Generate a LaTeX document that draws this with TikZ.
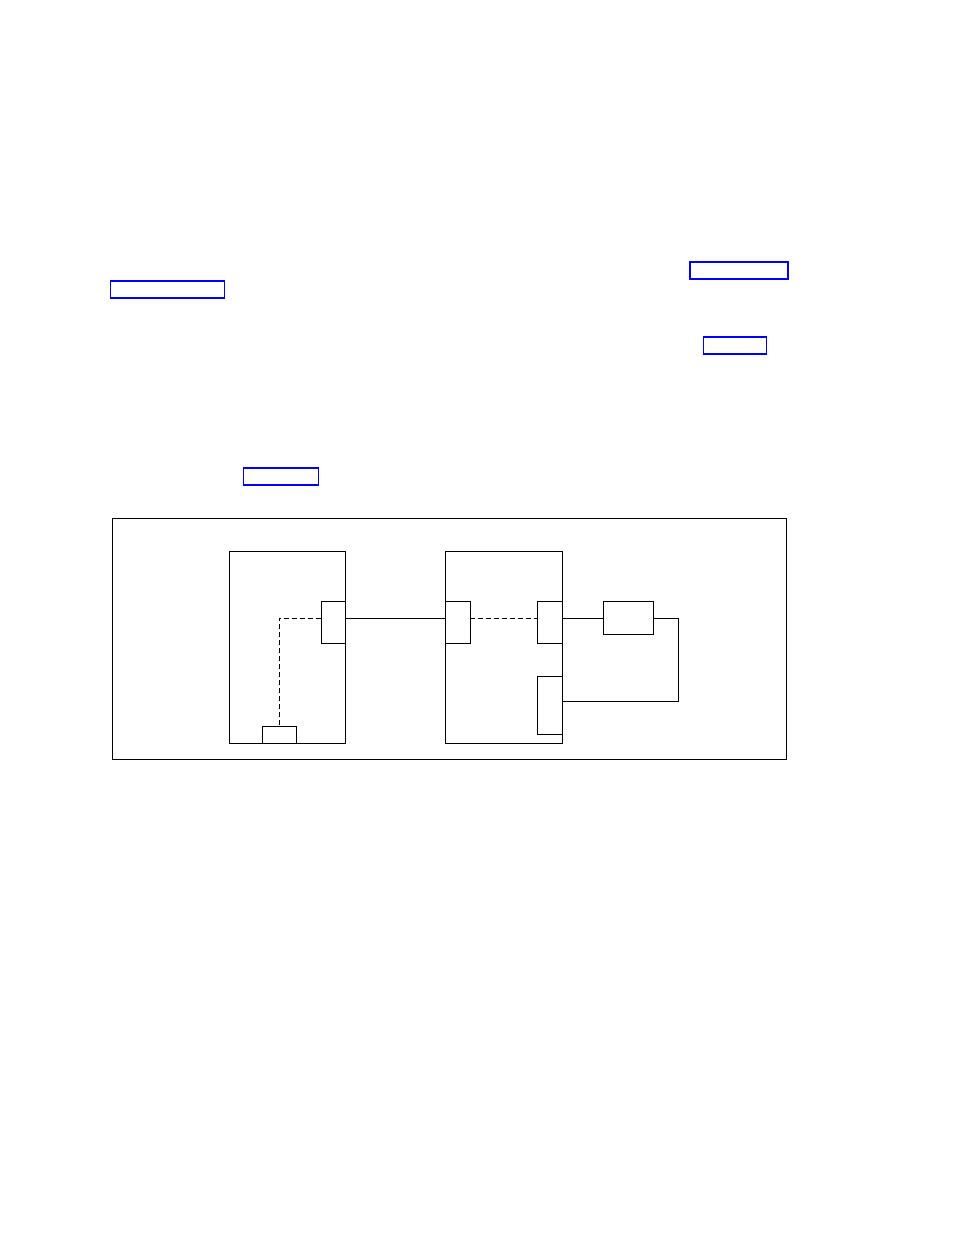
\documentclass[tikz,border=0pt]{standalone}
\usetikzlibrary{positioning}

\begin{document}
\begin{tikzpicture}[x = 1pt, y = -1pt, line width = 0.9pt,
		box/.style = {draw, rectangle, inner sep = 0pt, outer sep = 0pt, anchor = north west},
		link/.style = {draw = blue, line width = 1.4pt, inner sep = 0pt, outer sep = 0pt, anchor = north west},
		wire/.style = {line width = 0.9pt},
		dashwire/.style = {line width = 0.9pt, dash pattern = on 5pt off 3pt}]
	
		\useasboundingbox (0, 0) rectangle (954, 1235);
		
		% Link frames in the text
		\node[link, minimum width = 98pt, minimum height = 17pt] (linka) at (690, 262) {};
		\node[link, minimum width = 114pt, minimum height = 17pt] (linkb) at (110.5, 281) {};
		\node[link, minimum width = 63pt, minimum height = 17pt] (linkc) at (703.5, 337) {};
		\node[link, minimum width = 75pt, minimum height = 17pt] (linkd) at (243.5, 468) {};
		
		% Outer frame
		\node[box, minimum width = 674pt, minimum height = 241pt] (frame) at (112.5, 518.5) {};
		
		% Left unit
		\node[box, minimum width = 116.5pt, minimum height = 192pt] (unita) at (229, 551.5) {};
		\node[box, minimum width = 24.5pt, minimum height = 42pt] (porta) at (321, 601.5) {};
		\node[box, minimum width = 34pt, minimum height = 17pt] (slot) at (262, 726.5) {};
		
		% Right unit
		\node[box, minimum width = 116.5pt, minimum height = 192pt] (unitb) at (445.5, 551.5) {};
		\node[box, minimum width = 24.5pt, minimum height = 42pt] (portb) at (445.5, 601.5) {};
		\node[box, minimum width = 24.5pt, minimum height = 42pt] (portc) at (537.5, 601.5) {};
		\node[box, minimum width = 24.5pt, minimum height = 58pt] (portd) at (537.5, 676.5) {};
		
		% External device
		\node[box, minimum width = 50.5pt, minimum height = 33pt] (dev) at (603, 601.5) {};
		
		% Return point of the loop
		\coordinate (bend) at (678.7, 701.3);
		
		% Connections
		\draw[wire] (porta.east |- dev.west) -- (portb.west |- dev.west);
		\draw[dashwire] (porta.west |- dev.west) -| (slot.north);
		\draw[dashwire] (portb.east |- dev.west) -- (portc.west |- dev.west);
		\draw[wire] (portc.east |- dev.west) -- (dev.west);
		\draw[wire] (dev.east) -| (bend) -- (bend -| portd.east);
		
	\end{tikzpicture}
\end{document}
